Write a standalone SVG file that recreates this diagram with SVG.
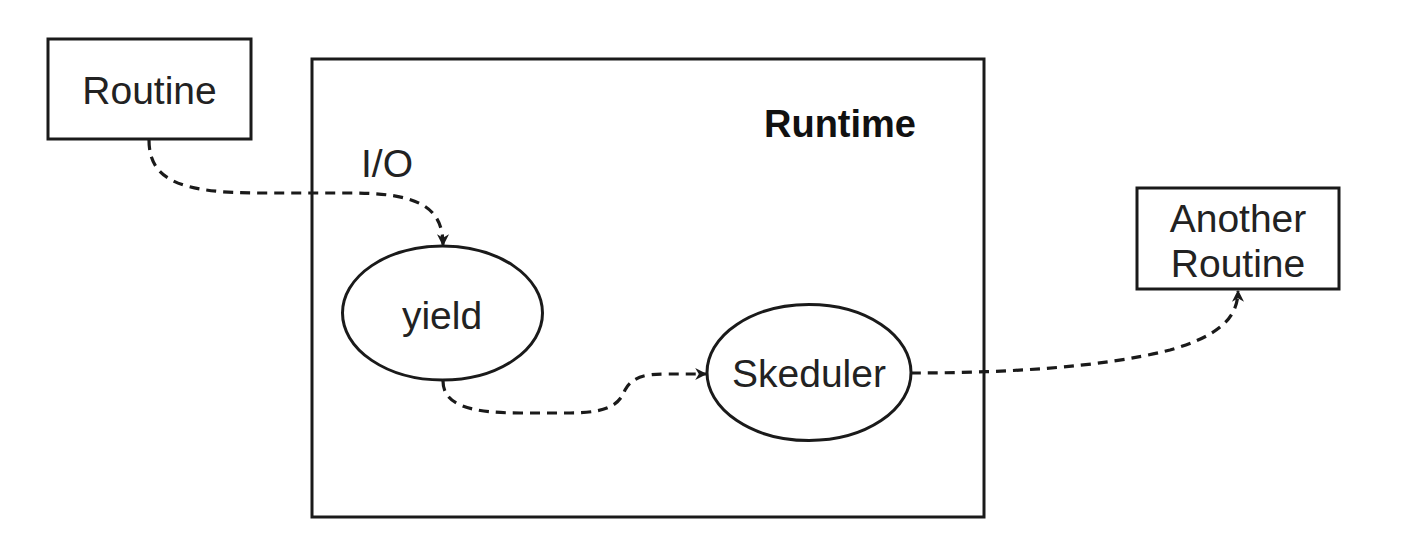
<svg xmlns="http://www.w3.org/2000/svg" width="1412" height="538" viewBox="0 0 1412 538">
<style>
.box{fill:#fff;stroke:#1a1a1a;stroke-width:3}
.lbl{font-family:"Liberation Sans",Arial,sans-serif;font-size:39px;fill:#222;text-anchor:middle}
.bold{font-weight:bold;font-size:38px;fill:#111}
.edge{fill:none;stroke:#1a1a1a;stroke-width:3.2;stroke-dasharray:10 7}
</style>
<defs>
<marker id="arr" viewBox="0 0 10 10" refX="9" refY="5" markerWidth="12" markerHeight="12" markerUnits="userSpaceOnUse" orient="auto">
<path d="M0,0 L10,5 L0,10 L3,5 z" fill="#1a1a1a"/>
</marker>
</defs>
<rect width="1412" height="538" fill="#fff"/>
<g id="runtime">
<rect class="box" x="312" y="59" width="672" height="458"/>
<text class="lbl bold" x="840" y="137">Runtime</text>
</g>
<g id="routine">
<rect class="box" x="48" y="39" width="203" height="100"/>
<text class="lbl" x="149.5" y="104">Routine</text>
</g>
<g id="another-routine">
<rect class="box" x="1137" y="188" width="202" height="101"/>
<text class="lbl" x="1238" y="232">Another</text>
<text class="lbl" x="1238" y="277">Routine</text>
</g>
<g id="yield">
<ellipse class="box" cx="442.5" cy="313" rx="100" ry="67"/>
<text class="lbl" x="442" y="329">yield</text>
</g>
<g id="skeduler">
<ellipse class="box" cx="809" cy="372.5" rx="102" ry="68"/>
<text class="lbl" x="809" y="387">Skeduler</text>
</g>
<g id="connectors">
<path class="edge" marker-end="url(#arr)" d="M149,140 C149,180 180,193 260,193 L350,193 C415,193 443,205 443,245"/>
<text class="lbl" x="387" y="177">I/O</text>
<path class="edge" marker-end="url(#arr)" d="M443,381 C443,405 470,413 520,413 L570,413 C612,413 620,402 625,390 C632,377 645,374 665,374 L706,374"/>
<path class="edge" marker-end="url(#arr)" d="M911,373 C1000,373 1100,368 1170,350 C1215,337 1238,320 1238,291"/>
</g>
</svg>
